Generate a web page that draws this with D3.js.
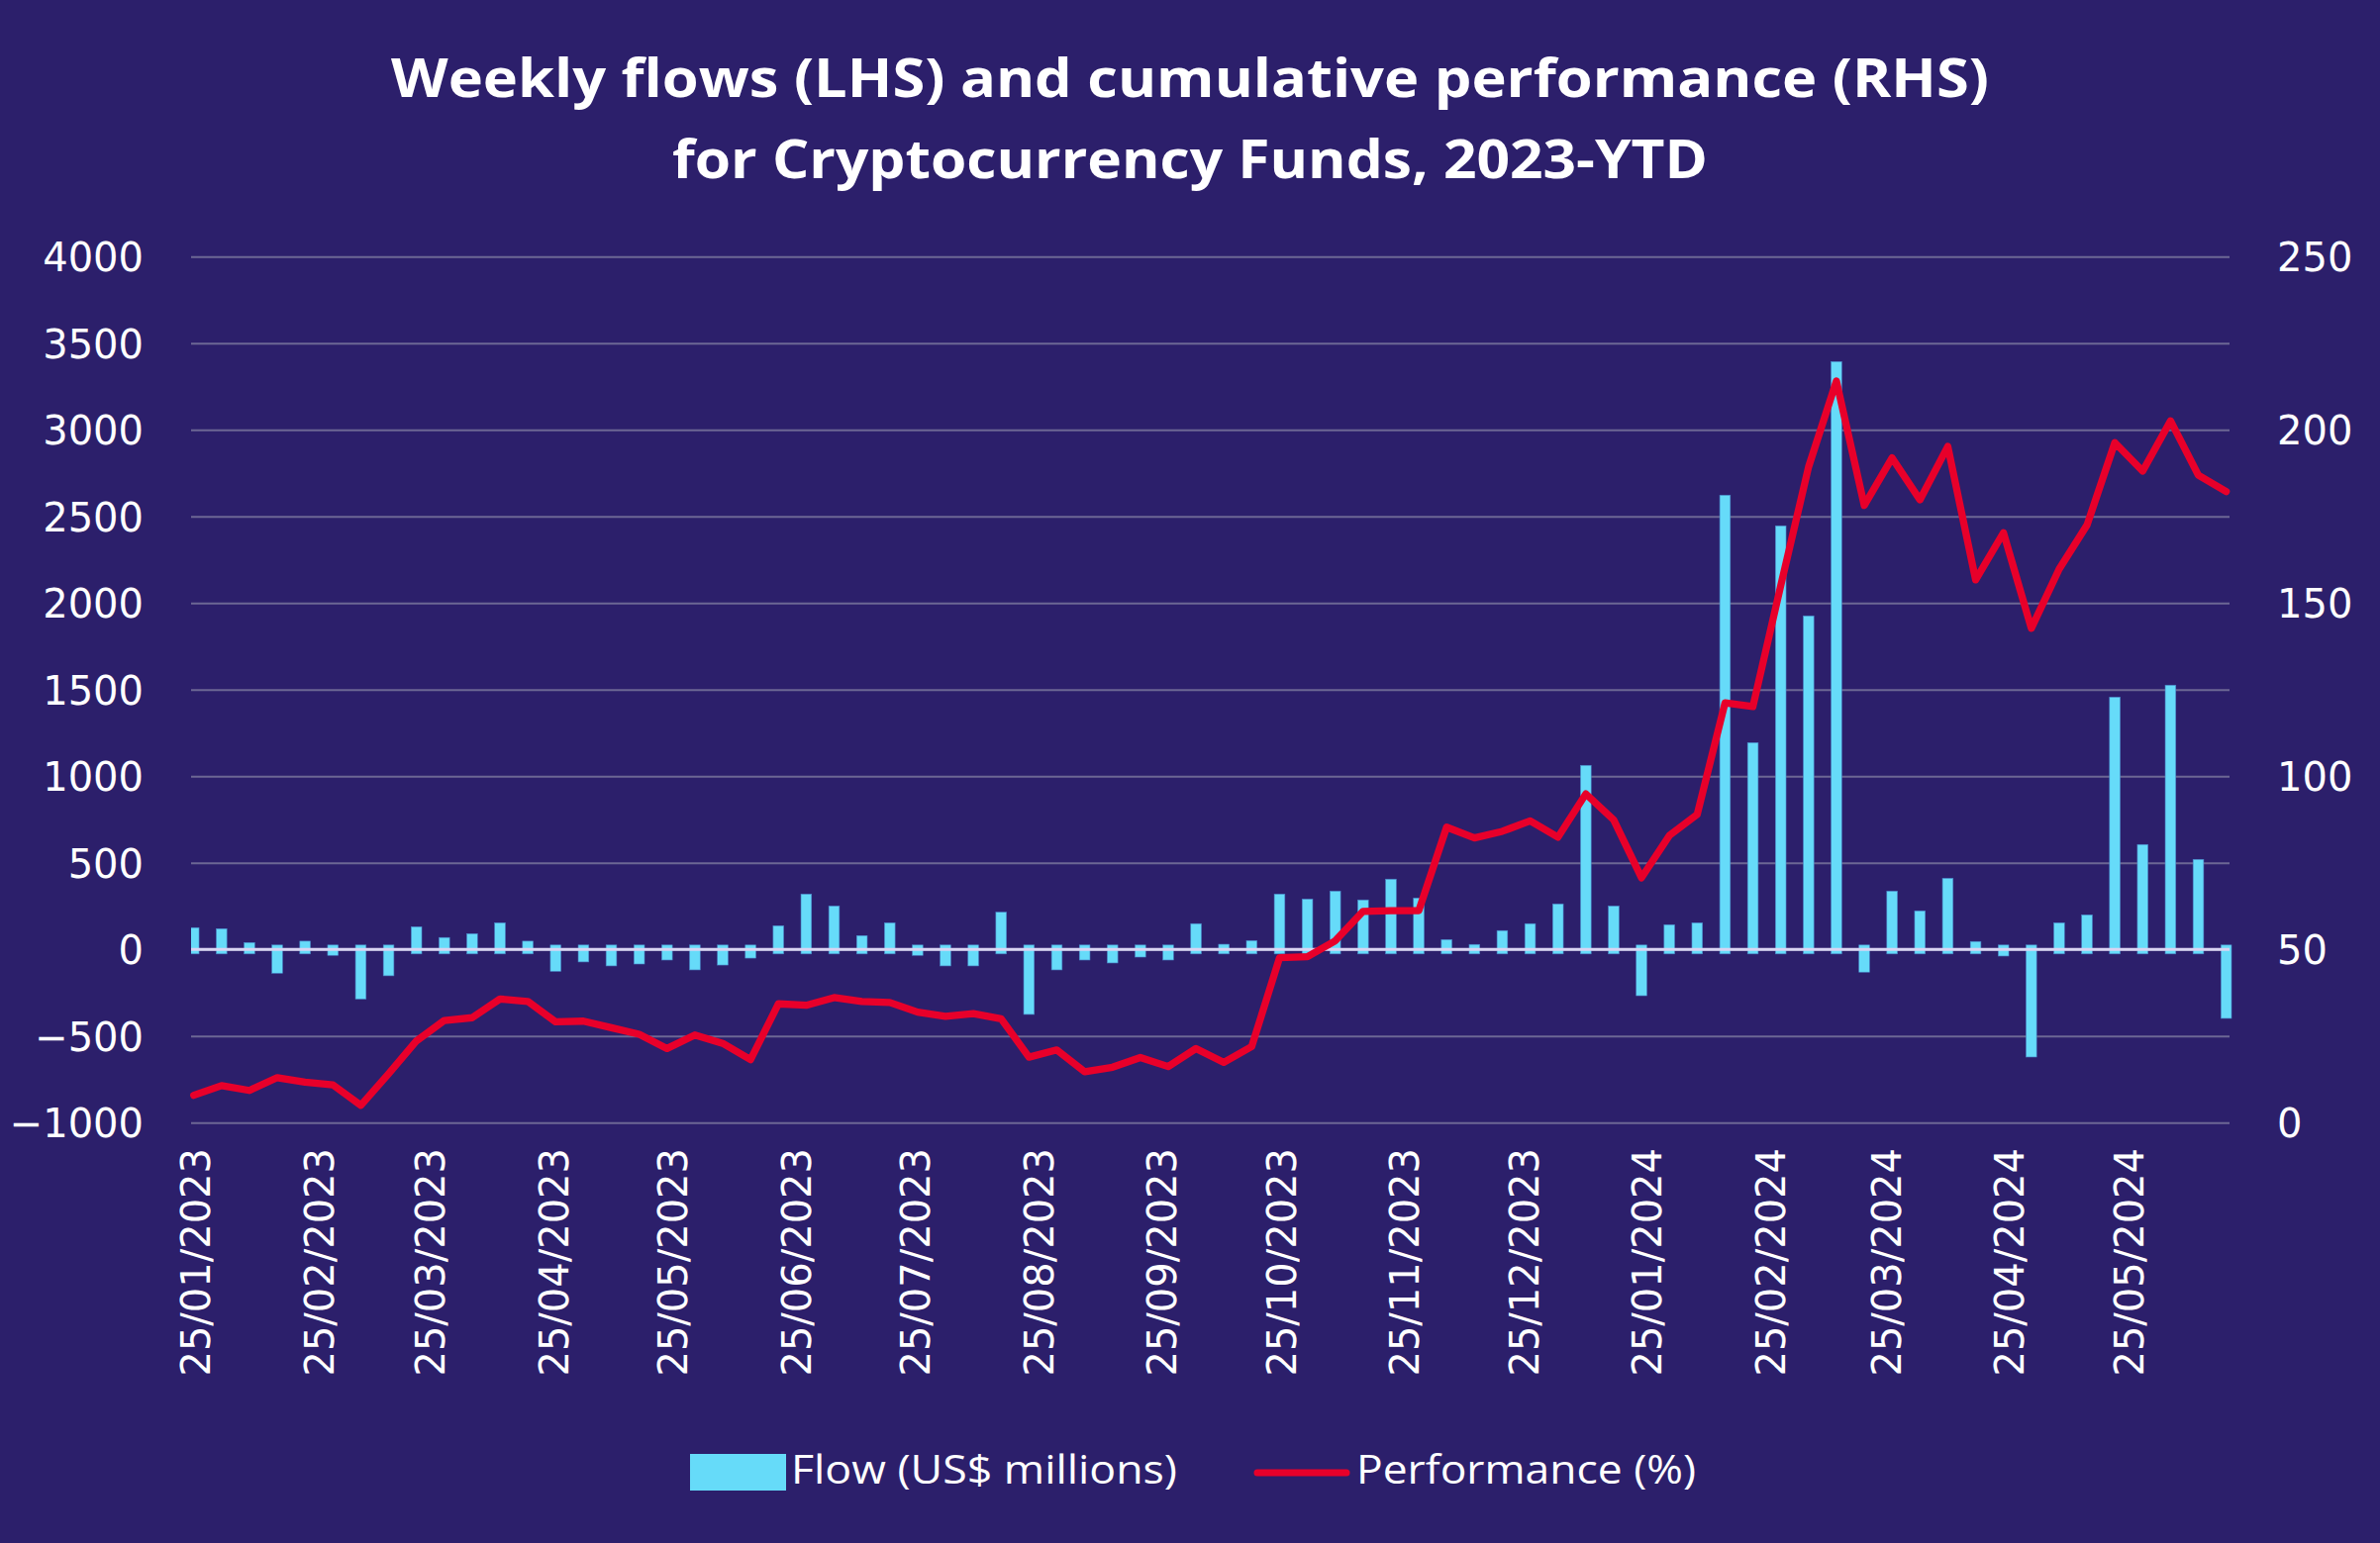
<!DOCTYPE html>
<html>
<head>
<meta charset="utf-8">
<script src="https://cdn.jsdelivr.net/npm/d3@7"></script>
<style>
  html, body { margin: 0; padding: 0; background: #2c1f6b; }
  svg { display: block; }
</style>
</head>
<body>
<svg id="chart" width="2404" height="1559"></svg>
<script>
// ---- DATA ----
const weeks = [
  "2023-01-25","2023-02-01","2023-02-08","2023-02-15","2023-02-22","2023-03-01","2023-03-08","2023-03-15","2023-03-22","2023-03-29",
  "2023-04-05","2023-04-12","2023-04-19","2023-04-26","2023-05-03","2023-05-10","2023-05-17","2023-05-24","2023-05-31","2023-06-07",
  "2023-06-14","2023-06-21","2023-06-28","2023-07-05","2023-07-12","2023-07-19","2023-07-26","2023-08-02","2023-08-09","2023-08-16",
  "2023-08-23","2023-08-30","2023-09-06","2023-09-13","2023-09-20","2023-09-27","2023-10-04","2023-10-11","2023-10-18","2023-10-25",
  "2023-11-01","2023-11-08","2023-11-15","2023-11-22","2023-11-29","2023-12-06","2023-12-13","2023-12-20","2023-12-27","2024-01-03",
  "2024-01-10","2024-01-17","2024-01-24","2024-01-31","2024-02-07","2024-02-14","2024-02-21","2024-02-28","2024-03-06","2024-03-13",
  "2024-03-20","2024-03-27","2024-04-03","2024-04-10","2024-04-17","2024-04-24","2024-05-01","2024-05-08","2024-05-15","2024-05-22",
  "2024-05-29","2024-06-05","2024-06-12","2024-06-19"
];
const flows = [
  126, 120, 40, -137, 48, -34, -286, -152, 131, 69,
  91, 154, 48, -126, -72, -95, -84, -61, -118, -90,
  -50, 137, 320, 251, 80, 154, -34, -95, -95, 215,
  -375, -118, -61, -78, -44, -61, 149, 30, 51, 320,
  291, 337, 286, 406, 297, 57, 29, 109, 149, 263,
  1063, 251, -267, 143, 154, 2623, 1194, 2446, 1926, 3394,
  -131, 337, 223, 411, 46, -38, -621, 154, 200, 1457,
  606, 1526, 520, -398
];
const performance = [
  7.9, 10.7, 9.3, 13.0, 11.7, 10.9, 5.0, 14.1, 23.6, 29.5,
  30.3, 35.7, 35.0, 29.1, 29.3, 27.4, 25.5, 21.4, 25.3, 22.9,
  18.2, 34.3, 33.9, 36.1, 35.0, 34.7, 31.9, 30.7, 31.5, 30.0,
  18.9, 21.0, 14.7, 16.0, 18.8, 16.2, 21.4, 17.4, 22.0, 47.6,
  47.9, 52.5, 61.0, 61.2, 61.2, 85.3, 82.2, 84.1, 87.1, 82.4,
  94.9, 87.4, 70.7, 82.9, 89.0, 121.2, 120.1, 155.0, 189.3, 214.1,
  178.2, 191.9, 179.8, 195.2, 156.7, 170.3, 142.7, 159.8, 172.5, 196.3,
  188.1, 202.6, 186.9, 182.2
];
const xTickLabels = [
  "25/01/2023","25/02/2023","25/03/2023","25/04/2023","25/05/2023","25/06/2023",
  "25/07/2023","25/08/2023","25/09/2023","25/10/2023","25/11/2023","25/12/2023",
  "25/01/2024","25/02/2024","25/03/2024","25/04/2024","25/05/2024"
];
const leftTicks = [-1000, -500, 0, 500, 1000, 1500, 2000, 2500, 3000, 3500, 4000];
const rightTicks = [0, 50, 100, 150, 200, 250];
const titleLines = ["Weekly flows (LHS) and cumulative performance (RHS)", "for Cryptocurrency Funds, 2023-YTD"];
const legendLabels = ["Flow (US$ millions)", "Performance (%)"];

// ---- LAYOUT ----
const C = {
  bg: "#2c1f6b", bar: "#66dbf9", line: "#e8002a", grid: "#6c6794", zero: "#d9d4f2", text: "#ffffff"
};
const pL = 193, pR = 2252, pT = 259.3, pB = 1134.3;
const tickFont = "'DejaVu Sans', sans-serif";
const titleFont = "'Open Sans', 'DejaVu Sans', sans-serif";

const parse = d3.timeParse("%Y-%m-%d");
const parseLbl = d3.timeParse("%d/%m/%Y");
const dates = weeks.map(parse);

const x = d3.scaleTime()
  .domain([d3.timeHour.offset(dates[0], -16), d3.timeHour.offset(dates[dates.length - 1], 20)])
  .range([pL, pR]);
const yL = d3.scaleLinear().domain([-1000, 4000]).range([pB, pT]);
const yR = d3.scaleLinear().domain([0, 250]).range([pB, pT]);

const svg = d3.select("#chart");
svg.append("rect").attr("width", 2404).attr("height", 1559).attr("fill", C.bg);

// Title
const title = svg.append("g");
const titleBase = [98, 180];
const titleLen = [1614, 1046];
titleLines.forEach((t, i) => {
  title.append("text")
    .attr("x", 1202).attr("y", titleBase[i])
    .attr("text-anchor", "middle")
    .attr("font-family", titleFont).attr("font-weight", 700).attr("font-size", 54)
    .attr("fill", C.text)
    .attr("textLength", titleLen[i]).attr("lengthAdjust", "spacingAndGlyphs")
    .text(t);
});

// Left axis with gridlines
const gL = svg.append("g").attr("transform", `translate(${pL},0)`)
  .call(d3.axisLeft(yL).tickValues(leftTicks).tickSize(-(pR - pL)).tickPadding(48).tickFormat(d3.format("d")));
gL.select(".domain").remove();
gL.selectAll(".tick line").attr("stroke", C.grid).attr("stroke-width", 2);
gL.selectAll(".tick text").attr("fill", C.text).attr("font-family", tickFont).attr("font-size", 40).attr("dy", "0.36em");

// Right axis (labels only)
const gR = svg.append("g").attr("transform", `translate(${pR},0)`)
  .call(d3.axisRight(yR).tickValues(rightTicks).tickSize(0).tickPadding(48));
gR.select(".domain").remove();
gR.selectAll(".tick text").attr("fill", C.text).attr("font-family", tickFont).attr("font-size", 40).attr("dy", "0.36em");

// Bars
const barW = 10.7, overlap = 4.5;
svg.append("clipPath").attr("id", "plotclip").append("rect")
  .attr("x", pL).attr("y", 0).attr("width", pR - pL + 3).attr("height", 1559);
svg.append("g").attr("clip-path", "url(#plotclip)")
  .selectAll("rect").data(flows).join("rect")
  .attr("x", (d, i) => x(dates[i]) - barW / 2)
  .attr("width", barW)
  .attr("y", d => d >= 0 ? yL(d) : yL(0) - overlap)
  .attr("height", d => Math.abs(yL(d) - yL(0)) + overlap)
  .attr("fill", C.bar)
  .attr("stroke", "#4a86c8").attr("stroke-width", 0.6);

// Zero line
svg.append("line")
  .attr("x1", pL).attr("x2", pR)
  .attr("y1", yL(0)).attr("y2", yL(0))
  .attr("stroke", C.zero).attr("stroke-width", 3);

// Performance line
const lineGen = d3.line().x((d, i) => x(dates[i])).y(d => yR(d));
svg.append("path").datum(performance)
  .attr("d", lineGen)
  .attr("fill", "none").attr("stroke", C.line).attr("stroke-width", 7.3)
  .attr("stroke-linejoin", "round").attr("stroke-linecap", "round");

// X tick labels
svg.append("g").selectAll("text").data(xTickLabels).join("text")
  .attr("transform", d => `translate(${x(parseLbl(d)) + 2},1160) rotate(-90)`)
  .attr("text-anchor", "end").attr("dy", "0.36em")
  .attr("fill", C.text).attr("font-family", tickFont).attr("font-size", 40)
  .text(d => d);

// Legend
const lg = svg.append("g");
lg.append("rect").attr("x", 697).attr("y", 1469).attr("width", 97).attr("height", 37).attr("fill", C.bar);
lg.append("text").attr("x", 799).attr("y", 1499)
  .attr("font-family", titleFont).attr("font-size", 40).attr("fill", C.text)
  .attr("textLength", 390).attr("lengthAdjust", "spacingAndGlyphs")
  .text(legendLabels[0]);
lg.append("line").attr("x1", 1270).attr("x2", 1360).attr("y1", 1488).attr("y2", 1488)
  .attr("stroke", C.line).attr("stroke-width", 7).attr("stroke-linecap", "round");
lg.append("text").attr("x", 1370).attr("y", 1499)
  .attr("font-family", titleFont).attr("font-size", 40).attr("fill", C.text)
  .attr("textLength", 343).attr("lengthAdjust", "spacingAndGlyphs")
  .text(legendLabels[1]);
</script>
</body>
</html>
